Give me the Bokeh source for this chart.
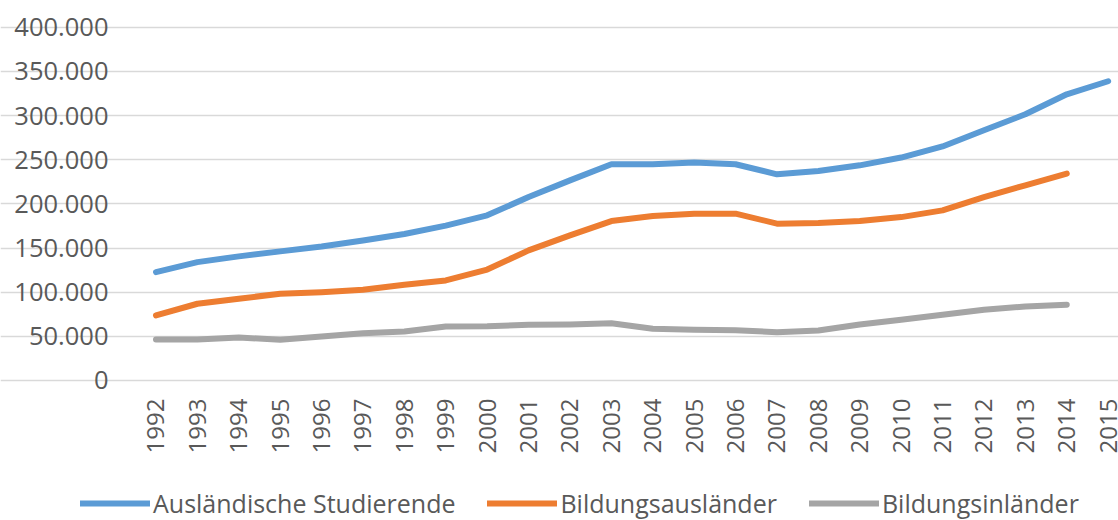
import math
from bokeh.plotting import figure
from bokeh.models import Range1d, FixedTicker, Legend, LegendItem
from bokeh.embed import file_html
from bokeh.resources import INLINE

years = list(range(1992, 2016))
auslaendische = [122700, 134000, 140500, 146200, 151800, 158600, 165800, 175300,
                 187000, 207700, 226600, 244800, 244800, 246700, 244800, 233400,
                 237200, 243600, 252400, 265000, 283300, 301400, 324000, 338800]
bildungsauslaender = [73700, 86900, 92600, 98200, 100000, 102800, 108400, 113300,
                      125600, 147300, 164300, 180500, 186200, 188900, 188900, 177600,
                      178200, 180500, 185000, 192600, 207700, 221000, 234200]
bildungsinlaender = [46500, 46500, 48700, 46100, 49900, 53600, 55500, 61200,
                     61500, 63100, 63500, 64900, 58600, 57500, 57000, 54700,
                     56700, 63500, 68700, 74400, 80000, 83900, 85800]
y_ticks = [0, 50000, 100000, 150000, 200000, 250000, 300000, 350000, 400000]
y_tick_labels = ["0", "50.000", "100.000", "150.000", "200.000", "250.000",
                 "300.000", "350.000", "400.000"]
series_names = ["Ausländische Studierende", "Bildungsausländer", "Bildungsinländer"]
colors = ["#5b9bd5", "#ed7d31", "#a5a5a5"]

FONT = "Open Sans"
TXT = "#595959"

# plot-area edges (the frame spans the whole canvas so the legend is not clipped)
X_LEFT_EDGE = 1991.553
p = figure(width=1118, height=520, output_backend="svg", toolbar_location=None,
           x_range=Range1d(1988.244, 2015.25), y_range=Range1d(-158508, 430230),
           min_border_left=0, min_border_right=0, min_border_top=0,
           min_border_bottom=0)
p.outline_line_color = None
p.background_fill_color = "white"
p.border_fill_color = "white"

p.xgrid.visible = False
p.ygrid.grid_line_color = "#d9d9d9"
p.ygrid.grid_line_width = 1.6
p.ygrid.bounds = (X_LEFT_EDGE, 2015.25)

p.yaxis.ticker = FixedTicker(ticks=y_ticks)
p.yaxis.major_label_overrides = {t: l for t, l in zip(y_ticks, y_tick_labels)}
p.yaxis.fixed_location = X_LEFT_EDGE
p.xaxis.ticker = FixedTicker(ticks=years)
p.xaxis.major_label_overrides = {y: str(y) for y in years}
p.xaxis.major_label_orientation = math.pi / 2
p.xaxis.fixed_location = 0

for ax in (p.xaxis, p.yaxis):
    ax.axis_line_color = None
    ax.major_tick_line_color = None
    ax.minor_tick_line_color = None
    ax.major_tick_out = 0
    ax.major_tick_in = 0
    ax.major_label_text_font = FONT
    ax.major_label_text_color = TXT
p.yaxis.major_label_text_font_size = "25.5px"
p.yaxis.major_label_standoff = 29
p.xaxis.major_label_text_font_size = "24px"
p.xaxis.major_label_standoff = 18

data = [auslaendische, bildungsauslaender, bildungsinlaender]
items = []
for name, vals, col in zip(series_names, data, colors):
    r = p.line(years[:len(vals)], vals, line_color=col, line_width=6,
               line_cap="round", line_join="round")
    items.append(LegendItem(label=name, renderers=[r]))

legend = Legend(items=items, orientation="horizontal", location=(80, 0),
                glyph_width=70, glyph_height=20, label_standoff=3, spacing=32,
                padding=0, margin=0, border_line_color=None,
                background_fill_alpha=0, label_text_font=FONT,
                label_text_font_size="25px", label_text_color=TXT)
p.add_layout(legend, "center")

open("out.html", "w").write(file_html(p, INLINE))
